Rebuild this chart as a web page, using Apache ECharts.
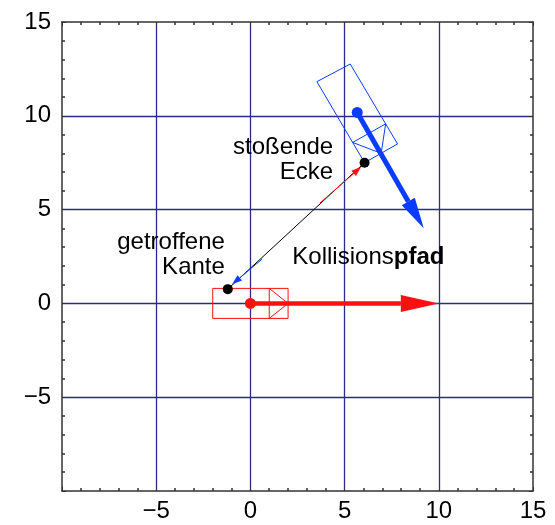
<!DOCTYPE html>
<html>
<head>
<meta charset="utf-8">
<script src="https://cdn.jsdelivr.net/npm/echarts@6/dist/echarts.min.js"></script>
<style>
  html, body { margin: 0; padding: 0; background: #fff; }
  #chart { width: 555px; height: 525px; }
</style>
</head>
<body>
<div id="chart"></div>
<script>
// axis range (both axes)
const axisMin = -10
const axisMax = 15
const axisStep = 5

// outlines of the two bodies (closed polylines)
const redBody = [[-2, -0.8], [2, -0.8], [2, 0.8], [-2, 0.8], [-2, -0.8]]
const redNose = [[1, 0.8], [2, 0], [1, -0.8], [1, 0.8]]
const blueBody = [[3.53, 11.82], [5.30, 12.76], [7.81, 8.50], [6.06, 7.50], [3.53, 11.82]]
const blueNose = [[5.43, 8.58], [6.94, 8.00], [7.18, 9.57], [5.43, 8.58]]

// thick motion arrows: [x1, y1, x2, y2]
const moveArrows = [[0, 0, 10, 0], [5.67, 10.18, 9.2, 4.0]]
// line between hit edge and pushing corner
const contactLine = [[-1.2, 0.76], [6.06, 7.50]]
// small arrows on that line
const contactArrows = [[3.69, 5.35, 5.88, 7.28], [0.62, 2.36, -0.97, 1.02]]

const centerDots = [[0, 0], [5.67, 10.18]]
const contactDots = [[6.06, 7.50], [-1.2, 0.76]]

// annotation anchors
const cornerLabel = [4.42, 7.67]
const edgeLabel = [-1.33, 2.6]
const pathLabel = [2.2, 2.45]

const navy = '#2b2b8c'
const frame = '#333'
const red = '#ff1010'
const blue = '#0a3cff'
const font = 'Liberation Sans, Arial, sans-serif'

const moveStyle = [
  { color: red, width: 4.5, head: 38, half: 8.5 },
  { color: blue, width: 5, head: 31, half: 7.5 }
]
const contactStyle = [
  { color: red, width: 1, head: 10, half: 3.5 },
  { color: blue, width: 1, head: 10, half: 3.5 }
]

function arrowRenderer(styles) {
  return function (params, api) {
    const s = styles[params.dataIndex]
    const p1 = api.coord([api.value(0), api.value(1)])
    const p2 = api.coord([api.value(2), api.value(3)])
    const dx = p2[0] - p1[0]
    const dy = p2[1] - p1[1]
    const len = Math.hypot(dx, dy)
    const ux = dx / len
    const uy = dy / len
    const bx = p2[0] - ux * s.head
    const by = p2[1] - uy * s.head
    return {
      type: 'group',
      children: [
        { type: 'line', shape: { x1: p1[0], y1: p1[1], x2: bx, y2: by }, style: { stroke: s.color, lineWidth: s.width } },
        {
          type: 'polygon',
          shape: { points: [[p2[0], p2[1]], [bx - uy * s.half, by + ux * s.half], [bx + uy * s.half, by - ux * s.half]] },
          style: { fill: s.color }
        }
      ]
    }
  }
}

function fmt(v) {
  return v < 0 ? '\u2212' + Math.abs(v) : String(v)
}

function outline(data, color, z) {
  return {
    type: 'line', data: data, symbol: 'none', z: z || 2,
    lineStyle: { color: color, width: 1 }, silent: true
  }
}

function mainAxis(position) {
  return {
    type: 'value', position: position, min: axisMin, max: axisMax, interval: axisStep,
    axisLine: { show: true, onZero: false, lineStyle: { color: frame, width: 1.5 } },
    axisTick: { show: true, inside: true, length: 4, lineStyle: { color: frame } },
    minorTick: { show: true, splitNumber: 5, length: 3, lineStyle: { color: frame, width: 1.5 } },
    axisLabel: {
      show: position === 'bottom' || position === 'left',
      showMinLabel: false, formatter: fmt,
      color: '#000', fontSize: 24, fontFamily: font,
      margin: position === 'left' ? 11 : 8
    },
    splitLine: {
      show: position === 'bottom' || position === 'left',
      showMinLine: false, showMaxLine: false,
      lineStyle: { color: navy, width: 1.3 }
    }
  }
}

const textStyle = { fontSize: 24, fontFamily: font, color: '#000', opacity: 1 }

const chart = echarts.init(document.getElementById('chart'))
chart.setOption({
  animation: false,
  backgroundColor: '#fff',
  grid: { left: 62, top: 22, right: 22, bottom: 34 },
  xAxis: [mainAxis('bottom'), mainAxis('top')],
  yAxis: [mainAxis('left'), mainAxis('right')],
  series: [
    outline(redBody, red),
    outline(redNose, red),
    outline(blueBody, blue),
    outline(blueNose, blue),
    outline(contactLine, '#000', 3),
    {
      type: 'custom', renderItem: arrowRenderer(contactStyle), data: contactArrows,
      encode: { x: [0, 2], y: [1, 3] }, z: 4, silent: true
    },
    {
      type: 'custom', renderItem: arrowRenderer(moveStyle), data: moveArrows,
      encode: { x: [0, 2], y: [1, 3] }, z: 5, silent: true
    },
    {
      type: 'scatter', data: [centerDots[0]], symbolSize: 11, z: 6,
      itemStyle: { color: red, opacity: 1 }
    },
    {
      type: 'scatter', data: [centerDots[1]], symbolSize: 11, z: 6,
      itemStyle: { color: blue, opacity: 1 }
    },
    {
      type: 'scatter', data: contactDots, symbolSize: 10, z: 6,
      itemStyle: { color: '#000', opacity: 1 }
    },
    {
      type: 'scatter', symbolSize: 1, z: 7, itemStyle: { color: 'rgba(0,0,0,0)', opacity: 1 },
      data: [
        { value: cornerLabel, label: { formatter: 'stoßende\nEcke', position: 'left', align: 'right' } },
        { value: edgeLabel, label: { formatter: 'getroffene\nKante', position: 'left', align: 'right' } },
        {
          value: pathLabel,
          label: {
            position: 'right', align: 'left', formatter: '{a|Kollisions}{b|pfad}',
            rich: {
              a: textStyle,
              b: Object.assign({}, textStyle, { fontWeight: 'bold' })
            }
          }
        }
      ],
      label: Object.assign({ show: true, distance: 0, lineHeight: 25 }, textStyle)
    }
  ]
})
</script>
</body>
</html>
